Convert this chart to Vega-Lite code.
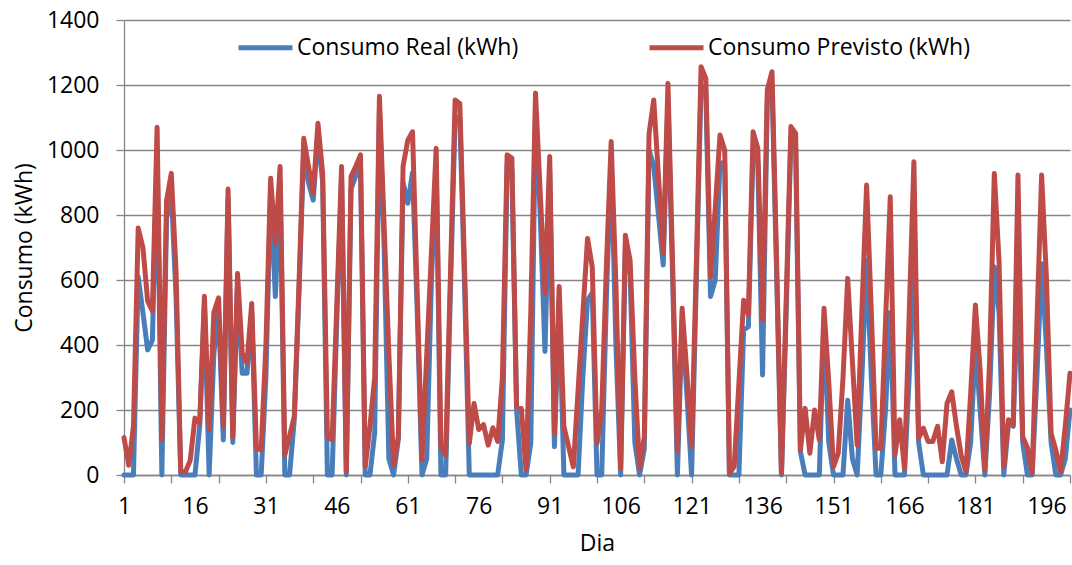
{
  "$schema": "https://vega.github.io/schema/vega-lite/v6.json",
  "width": 946,
  "height": 455,
  "autosize": {"type": "none"},
  "padding": {"left": 124, "top": 20, "right": 2, "bottom": 90},
  "background": "white",
  "config": {"view": {"stroke": null}, "font": "Open Sans"},
  "data": {"values": [
    {"d":1,"r":0,"p":115},{"d":2,"r":0,"p":30},{"d":3,"r":0,"p":150},{"d":4,"r":610,"p":760},{"d":5,"r":500,"p":700},
    {"d":6,"r":385,"p":535},{"d":7,"r":415,"p":505},{"d":8,"r":1000,"p":1070},{"d":9,"r":0,"p":108},{"d":10,"r":790,"p":845},
    {"d":11,"r":870,"p":928},{"d":12,"r":550,"p":630},{"d":13,"r":0,"p":10},{"d":14,"r":0,"p":10},{"d":15,"r":0,"p":45},
    {"d":16,"r":0,"p":175},{"d":17,"r":150,"p":160},{"d":18,"r":530,"p":550},{"d":19,"r":0,"p":140},{"d":20,"r":375,"p":500},
    {"d":21,"r":500,"p":545},{"d":22,"r":108,"p":150},{"d":23,"r":850,"p":880},{"d":24,"r":100,"p":118},{"d":25,"r":580,"p":620},
    {"d":26,"r":313,"p":375},{"d":27,"r":313,"p":345},{"d":28,"r":500,"p":528},{"d":29,"r":0,"p":82},{"d":30,"r":0,"p":77},
    {"d":31,"r":300,"p":400},{"d":32,"r":880,"p":913},{"d":33,"r":549,"p":713},{"d":34,"r":900,"p":949},{"d":35,"r":0,"p":62},
    {"d":36,"r":0,"p":120},{"d":37,"r":170,"p":180},{"d":38,"r":560,"p":590},{"d":39,"r":1000,"p":1036},{"d":40,"r":900,"p":950},
    {"d":41,"r":846,"p":867},{"d":42,"r":1050,"p":1082},{"d":43,"r":900,"p":928},{"d":44,"r":0,"p":118},{"d":45,"r":0,"p":108},
    {"d":46,"r":480,"p":528},{"d":47,"r":920,"p":949},{"d":48,"r":0,"p":10},{"d":49,"r":880,"p":918},{"d":50,"r":920,"p":950},
    {"d":51,"r":950,"p":985},{"d":52,"r":0,"p":26},{"d":53,"r":0,"p":150},{"d":54,"r":130,"p":300},{"d":55,"r":1120,"p":1165},
    {"d":56,"r":700,"p":767},{"d":57,"r":50,"p":371},{"d":58,"r":0,"p":30},{"d":59,"r":110,"p":118},{"d":60,"r":900,"p":950},
    {"d":61,"r":836,"p":1030},{"d":62,"r":930,"p":1056},{"d":63,"r":500,"p":552},{"d":64,"r":0,"p":46},{"d":65,"r":50,"p":368},
    {"d":66,"r":600,"p":687},{"d":67,"r":960,"p":1005},{"d":68,"r":0,"p":87},{"d":69,"r":0,"p":60},{"d":70,"r":560,"p":608},
    {"d":71,"r":1100,"p":1154},{"d":72,"r":1100,"p":1143},{"d":73,"r":580,"p":638},{"d":74,"r":0,"p":97},{"d":75,"r":0,"p":220},
    {"d":76,"r":0,"p":140},{"d":77,"r":0,"p":155},{"d":78,"r":0,"p":92},{"d":79,"r":0,"p":145},{"d":80,"r":0,"p":103},
    {"d":81,"r":108,"p":300},{"d":82,"r":950,"p":985},{"d":83,"r":940,"p":975},{"d":84,"r":200,"p":210},{"d":85,"r":0,"p":205},
    {"d":86,"r":0,"p":15},{"d":87,"r":97,"p":500},{"d":88,"r":1120,"p":1175},{"d":89,"r":800,"p":867},{"d":90,"r":380,"p":560},
    {"d":91,"r":940,"p":980},{"d":92,"r":87,"p":128},{"d":93,"r":540,"p":580},{"d":94,"r":0,"p":150},{"d":95,"r":0,"p":87},
    {"d":96,"r":0,"p":25},{"d":97,"r":0,"p":260},{"d":98,"r":300,"p":494},{"d":99,"r":538,"p":728},{"d":100,"r":560,"p":640},
    {"d":101,"r":0,"p":97},{"d":102,"r":0,"p":200},{"d":103,"r":550,"p":650},{"d":104,"r":980,"p":1026},{"d":105,"r":400,"p":584},
    {"d":106,"r":0,"p":20},{"d":107,"r":700,"p":738},{"d":108,"r":620,"p":660},{"d":109,"r":100,"p":300},{"d":110,"r":0,"p":20},
    {"d":111,"r":80,"p":118},{"d":112,"r":1000,"p":1050},{"d":113,"r":950,"p":1154},{"d":114,"r":800,"p":918},{"d":115,"r":646,"p":682},
    {"d":116,"r":1150,"p":1205},{"d":117,"r":600,"p":639},{"d":118,"r":0,"p":72},{"d":119,"r":480,"p":513},{"d":120,"r":250,"p":314},
    {"d":121,"r":0,"p":87},{"d":122,"r":600,"p":648},{"d":123,"r":1200,"p":1256},{"d":124,"r":1180,"p":1220},{"d":125,"r":549,"p":610},
    {"d":126,"r":600,"p":820},{"d":127,"r":960,"p":1046},{"d":128,"r":960,"p":1000},{"d":129,"r":0,"p":5},{"d":130,"r":0,"p":26},
    {"d":131,"r":0,"p":282},{"d":132,"r":446,"p":538},{"d":133,"r":456,"p":492},{"d":134,"r":1000,"p":1056},{"d":135,"r":960,"p":1005},
    {"d":136,"r":308,"p":477},{"d":137,"r":1150,"p":1185},{"d":138,"r":1200,"p":1241},{"d":139,"r":600,"p":640},{"d":140,"r":0,"p":5},
    {"d":141,"r":500,"p":540},{"d":142,"r":1040,"p":1072},{"d":143,"r":1000,"p":1051},{"d":144,"r":72,"p":77},{"d":145,"r":0,"p":205},
    {"d":146,"r":0,"p":67},{"d":147,"r":0,"p":200},{"d":148,"r":0,"p":108},{"d":149,"r":480,"p":513},{"d":150,"r":100,"p":285},
    {"d":151,"r":0,"p":26},{"d":152,"r":0,"p":67},{"d":153,"r":0,"p":296},{"d":154,"r":230,"p":605},{"d":155,"r":50,"p":349},
    {"d":156,"r":0,"p":92},{"d":157,"r":300,"p":505},{"d":158,"r":660,"p":892},{"d":159,"r":300,"p":499},{"d":160,"r":0,"p":82},
    {"d":161,"r":0,"p":82},{"d":162,"r":200,"p":470},{"d":163,"r":500,"p":856},{"d":164,"r":0,"p":62},{"d":165,"r":0,"p":170},
    {"d":166,"r":0,"p":20},{"d":167,"r":300,"p":492},{"d":168,"r":700,"p":964},{"d":169,"r":100,"p":113},{"d":170,"r":0,"p":144},
    {"d":171,"r":0,"p":103},{"d":172,"r":0,"p":103},{"d":173,"r":0,"p":150},{"d":174,"r":0,"p":41},{"d":175,"r":0,"p":220},
    {"d":176,"r":108,"p":256},{"d":177,"r":50,"p":150},{"d":178,"r":0,"p":60},{"d":179,"r":0,"p":10},{"d":180,"r":100,"p":250},
    {"d":181,"r":400,"p":523},{"d":182,"r":200,"p":323},{"d":183,"r":0,"p":15},{"d":184,"r":250,"p":350},{"d":185,"r":640,"p":928},
    {"d":186,"r":500,"p":657},{"d":187,"r":0,"p":26},{"d":188,"r":160,"p":170},{"d":189,"r":150,"p":155},{"d":190,"r":600,"p":923},
    {"d":191,"r":100,"p":118},{"d":192,"r":0,"p":84},{"d":193,"r":0,"p":5},{"d":194,"r":300,"p":464},{"d":195,"r":650,"p":923},
    {"d":196,"r":400,"p":612},{"d":197,"r":100,"p":128},{"d":198,"r":0,"p":77},{"d":199,"r":0,"p":10},{"d":200,"r":50,"p":150},
    {"d":201,"r":200,"p":313}
  ]},
  "encoding": {
    "x": {
      "field": "d", "type": "quantitative",
      "scale": {"domain": [1, 201], "nice": false, "zero": false},
      "axis": {
        "values": [1,6,11,16,21,26,31,36,41,46,51,56,61,66,71,76,81,86,91,96,101,106,111,116,121,126,131,136,141,146,151,156,161,166,171,176,181,186,191,196,201],
        "labelExpr": "(datum.value-1)%15==0 ? datum.label : ''",
        "tickOpacity": {"condition": {"test": "(datum.value-1)%10==0", "value": 1}, "value": 0},
        "grid": false,
        "tickSize": 8, "tickColor": "#868686", "tickWidth": 1.3,
        "domainColor": "#868686", "domainWidth": 1.3,
        "labelFontSize": 23, "labelColor": "#000000", "labelPadding": 12,
        "labelOverlap": false, "labelFlush": false,
        "title": "Dia", "titleFontSize": 23, "titleFontWeight": "normal", "titleColor": "#000000", "titlePadding": 14
      }
    }
  },
  "layer": [
    {
      "mark": {"type": "line", "strokeWidth": 5, "strokeJoin": "round", "strokeCap": "round"},
      "encoding": {
        "y": {
          "field": "r", "type": "quantitative",
          "scale": {"domain": [0, 1400], "nice": false},
          "axis": {
            "values": [0,200,400,600,800,1000,1200,1400],
            "format": "d",
            "grid": true, "gridColor": "#868686", "gridWidth": 1.3,
            "domainColor": "#868686", "domainWidth": 1.3,
            "tickSize": 8, "tickColor": "#868686", "tickWidth": 1.3,
            "labelFontSize": 23, "labelColor": "#000000", "labelPadding": 17,
            "title": "Consumo  (kWh)", "titleFontSize": 23, "titleFontWeight": "normal", "titleColor": "#000000", "titlePadding": 10
          }
        },
        "color": {
          "datum": "Consumo Real (kWh)",
          "scale": {"domain": ["Consumo Real (kWh)", "Consumo Previsto (kWh)"], "range": ["#4A7EBB", "#BE4B48"]},
          "legend": {
            "orient": "none", "legendX": 112, "legendY": -2,
            "direction": "horizontal", "columns": 2, "columnPadding": 120,
            "title": null, "padding": 0,
            "symbolType": "stroke", "symbolSize": 2916, "symbolStrokeWidth": 5,
            "labelFontSize": 23, "labelColor": "#000000", "labelOffset": 2, "labelLimit": 400
          }
        }
      }
    },
    {
      "mark": {"type": "line", "strokeWidth": 5, "strokeJoin": "round", "strokeCap": "round"},
      "encoding": {
        "y": {"field": "p", "type": "quantitative", "title": "Consumo  (kWh)"},
        "color": {"datum": "Consumo Previsto (kWh)"}
      }
    }
  ]
}
